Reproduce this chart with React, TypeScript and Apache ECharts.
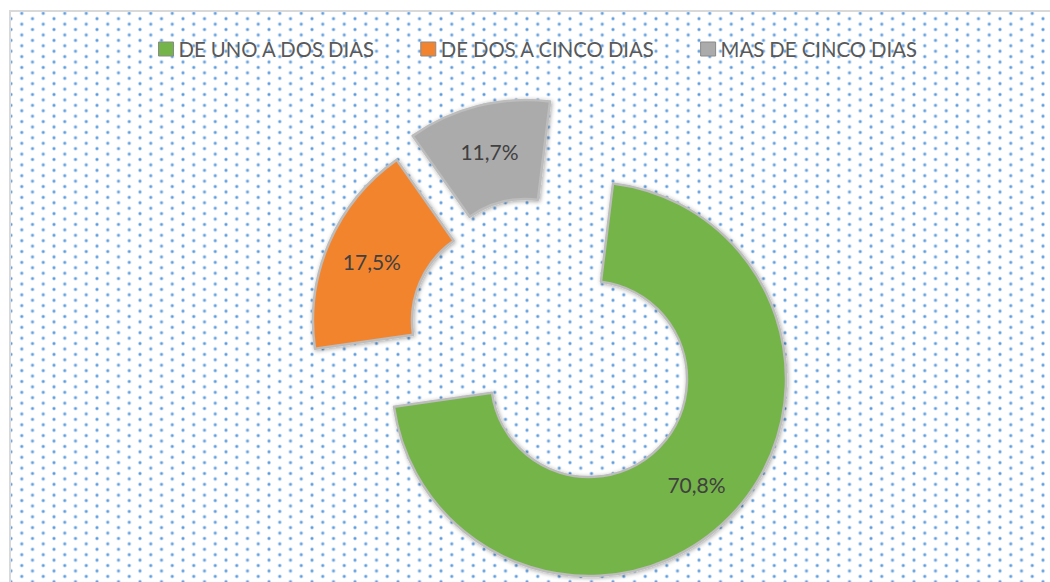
import React, { useEffect, useRef } from "react";
import * as echarts from "echarts";

const categories = ["DE UNO A DOS DIAS", "DE DOS A CINCO DIAS", "MAS DE CINCO DIAS"];
const values = [70.8, 17.5, 11.7];
const colors = ["#74B449", "#F3842F", "#ABABAB"];
// exploded slice centres (Excel explodes each point separately)
const sliceCenters = [
  [589, 379],
  [510, 321],
  [526, 297],
];

const fmt = (v: number) => v.toFixed(1).replace(".", ",") + "%";

export default function App() {
  const ref = useRef<HTMLDivElement>(null);

  useEffect(() => {
    if (!ref.current) return;
    const chart = echarts.init(ref.current, null, { renderer: "svg" });
    const series = categories.map((_, k) => ({
      type: "pie",
      name: categories[k],
      center: sliceCenters[k],
      radius: [98, 197],
      startAngle: 83,
      clockwise: true,
      silent: true,
      avoidLabelOverlap: false,
      labelLine: { show: false },
      emphasis: { disabled: true },
      data: categories.map((name, i) => ({
        name,
        value: values[i],
        itemStyle:
          i === k
            ? {
                color: colors[i],
                borderColor: "#bdbdbd",
                borderWidth: 2.5,
                shadowBlur: 4,
                shadowColor: "rgba(0,0,0,0.35)",
                shadowOffsetX: 1,
                shadowOffsetY: 1,
              }
            : { color: "rgba(0,0,0,0)", borderWidth: 0 },
        label:
          i === k
            ? {
                show: true,
                position: "inside",
                formatter: (p: any) => fmt(p.value),
                color: "#404040",
                fontFamily: "Lato",
                fontSize: 21,
              }
            : { show: false },
      })),
    }));

    chart.setOption({
      animation: false,
      backgroundColor: "transparent",
      legend: {
        left: 153,
        top: 34,
        icon: "rect",
        itemWidth: 15,
        itemHeight: 14,
        itemGap: 45,
        selectedMode: false,
        textStyle: { color: "#595959", fontFamily: "Lato", fontSize: 20.3 },
        data: categories.map((name, i) => ({
          name,
          itemStyle: { color: colors[i], borderColor: "#8a8a8a", borderWidth: 1 },
        })),
      },
      series,
    });
    return () => chart.dispose();
  }, []);

  const dot =
    "radial-gradient(circle, rgba(70,140,215,1) 0px, rgba(80,148,218,0.85) 0.9px, rgba(120,170,225,0.35) 1.7px, rgba(255,255,255,0) 2.3px)";

  return (
    <div style={{ position: "absolute", left: 0, top: 0, width: 1050, height: 582, overflow: "hidden", background: "#fff" }}>
      <div
        style={{
          position: "absolute",
          left: 9,
          top: 10,
          width: 1100,
          height: 620,
          borderLeft: "2px solid #d9d9d9",
          borderTop: "2px solid #d9d9d9",
          backgroundColor: "#fff",
          backgroundImage: `${dot}, ${dot}`,
          backgroundSize: "21.5px 10.83px, 21.5px 10.83px",
          backgroundPosition: "0px -4.1px, 10.75px 1.3px",
        }}
      />
      <div ref={ref} style={{ position: "absolute", left: 0, top: 0, width: 1050, height: 582 }} />
    </div>
  );
}
